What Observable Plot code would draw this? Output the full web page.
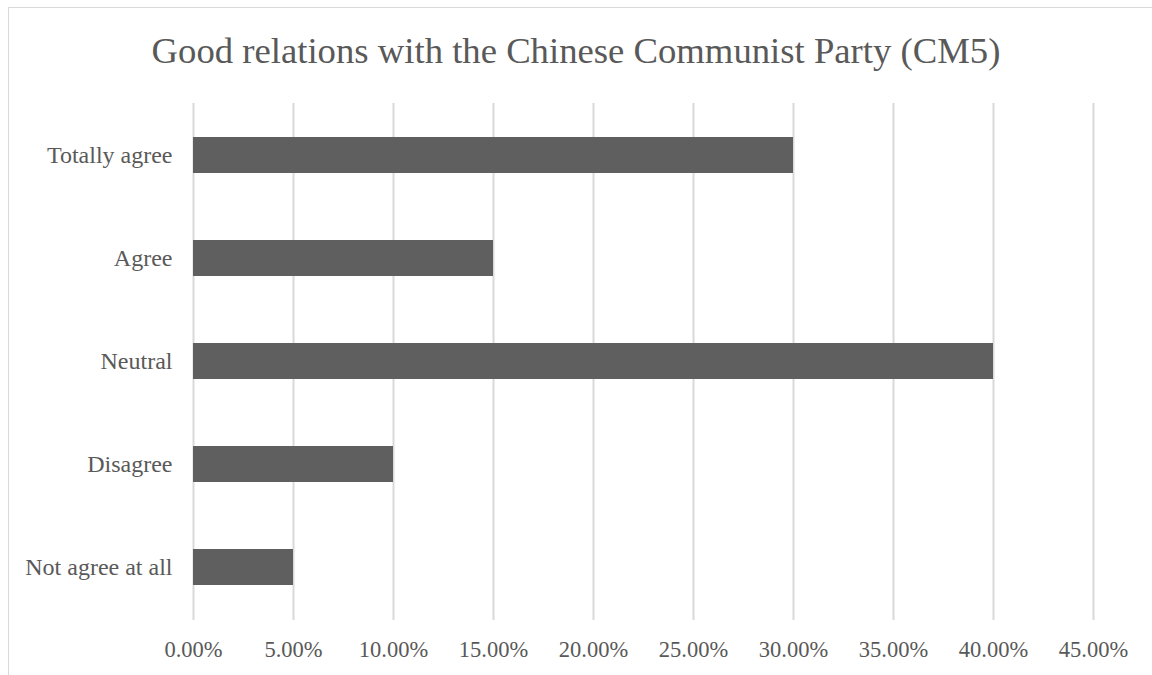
<!DOCTYPE html>
<html>
<head>
<meta charset="utf-8">
<script src="https://cdn.jsdelivr.net/npm/d3@7"></script>
<script src="https://cdn.jsdelivr.net/npm/@observablehq/plot@0.6"></script>
<style>
  html, body { margin: 0; padding: 0; background: #fff; }
  #wrap { position: relative; width: 1152px; height: 675px; overflow: hidden; font-family: "Liberation Serif", "Times New Roman", serif; }
  #frame { position: absolute; left: 8px; top: 7px; width: 1200px; height: 700px; border-left: 1px solid #d9d9d9; border-top: 1px solid #d9d9d9; box-sizing: border-box; }
  #title { position: absolute; left: 0; top: 0; width: 1152px; height: 80px; box-sizing: border-box; padding-top: 33px; text-align: center; font-size: 36.7px; line-height: 36px; color: #595959; }
  #chart { position: absolute; left: 0; top: 80px; }
</style>
</head>
<body>
<div id="wrap">
  <div id="frame"></div>
  <div id="title">Good relations with the Chinese Communist Party (CM5)</div>
  <div id="chart"></div>
</div>
<script>
const categories = ["Totally agree", "Agree", "Neutral", "Disagree", "Not agree at all"];
const values = [0.30, 0.15, 0.40, 0.10, 0.05];
const xTicks = [0, 0.05, 0.10, 0.15, 0.20, 0.25, 0.30, 0.35, 0.40, 0.45];

const data = categories.map((c, i) => ({category: c, value: values[i]}));
const fmt = d => (d * 100).toFixed(2) + "%";

const chart = Plot.plot({
  width: 1152,
  height: 595,
  marginTop: 23,
  marginBottom: 55,
  marginLeft: 193,
  marginRight: 59,
  style: {fontFamily: "'Liberation Serif', 'Times New Roman', serif", fontSize: "22px", color: "#595959", background: "transparent"},
  x: {domain: [0, 0.45], ticks: xTicks, tickFormat: fmt, label: null},
  y: {domain: categories, paddingInner: 0.65, paddingOuter: 0.325, label: null},
  marks: [
    Plot.gridX(xTicks, {stroke: "#d9d9d9", strokeOpacity: 1, strokeWidth: 2}),
    Plot.barX(data, {x: "value", y: "category", fill: "#5f5f5f"}),
    Plot.axisX({ticks: xTicks, tickFormat: fmt, tickSize: 0, tickPadding: 21, fontSize: 22.5, label: null}),
    Plot.axisY({tickSize: 0, tickPadding: 21, fontSize: 24, label: null})
  ]
});
document.getElementById("chart").appendChild(chart);
</script>
</body>
</html>
